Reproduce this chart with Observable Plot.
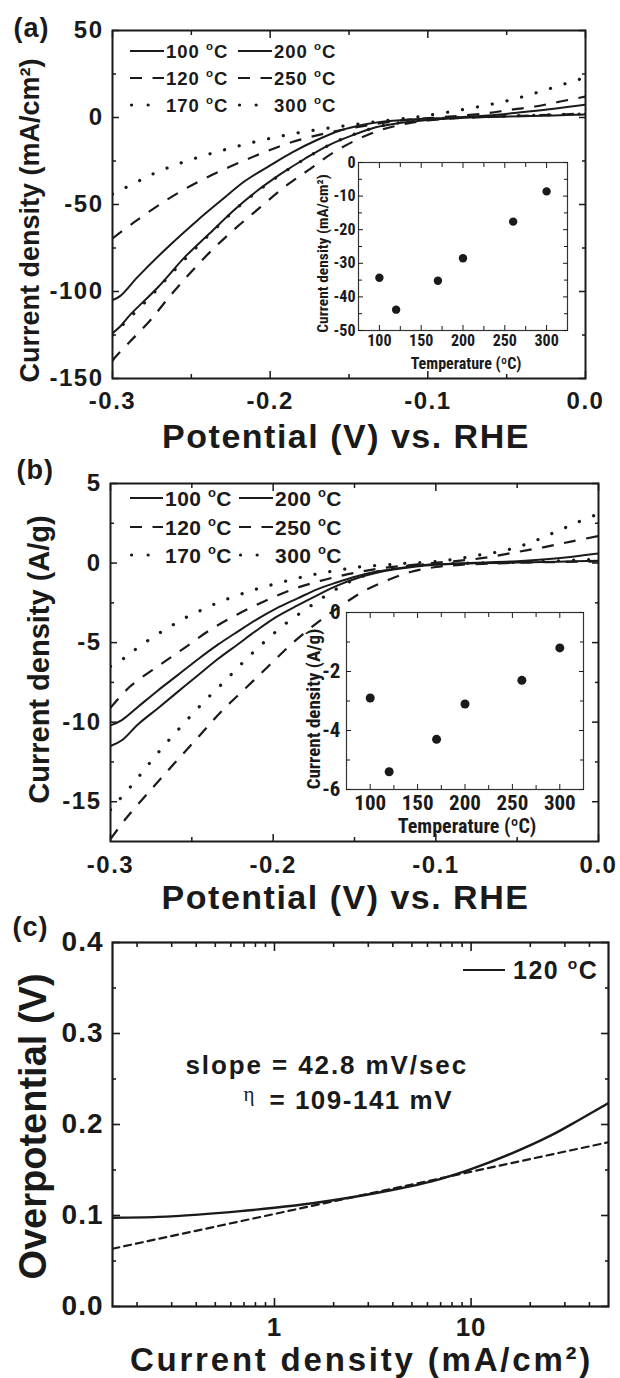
<!DOCTYPE html>
<html><head><meta charset="utf-8">
<script src="https://cdn.jsdelivr.net/npm/d3@7"></script>
<script src="https://cdn.jsdelivr.net/npm/@observablehq/plot@0.6"></script>
<style>
body{margin:0;background:#fff;}
#root{position:relative;width:620px;height:1378px;overflow:hidden;background:#fff;}
#root svg{position:absolute;overflow:visible;background:transparent;}
</style></head><body><div id="root"></div>
<script>
// ---------------- data ----------------
// legend temperatures (°C)
const legendTemps = [100, 120, 170, 200, 250, 300];
const lineStyleOf = {100: "solid", 200: "solid", 120: "dashed", 250: "dashed", 170: "dotted", 300: "dotted"};

// panel (a): potential (V) vs current density (mA/cm2)
const a100 = [[-0.3,-124],[-0.295,-120],[-0.289,-113.6],[-0.271,-97.4],[-0.254,-80.1],[-0.2385,-66.7],[-0.223,-53.3],[-0.208,-42],[-0.193,-32.3],[-0.178,-23.7],[-0.163,-16],[-0.148,-10.3],[-0.133,-5.6],[-0.118,-3.2],[-0.1,-1.4],[-0.08,-0.3],[-0.06,0.3],[-0.04,0.7],[-0.02,1.2],[0,1.8]];
const a120 = [[-0.3,-140],[-0.299,-138.5],[-0.289,-128.9],[-0.276,-116.5],[-0.264,-103.1],[-0.251,-89.7],[-0.236,-75.4],[-0.221,-62.9],[-0.206,-51.4],[-0.191,-40],[-0.176,-30.4],[-0.161,-20.8],[-0.146,-13.2],[-0.131,-7.5],[-0.116,-4.0],[-0.1,-1.7],[-0.08,-0.3],[-0.06,0.5],[-0.04,1.0],[-0.02,1.6],[0,2.3]];
const a170 = [[-0.3,-125],[-0.289,-115],[-0.276,-103],[-0.264,-91],[-0.251,-78.5],[-0.236,-65],[-0.221,-52],[-0.206,-41],[-0.191,-31.3],[-0.176,-22.7],[-0.161,-15.1],[-0.146,-9.4],[-0.131,-5.2],[-0.116,-2.7],[-0.1,-1.1],[-0.08,0],[-0.06,0.6],[-0.04,1.1],[-0.02,1.6],[0,2.1]];
const a200 = [[-0.3,-105],[-0.295,-102.5],[-0.284,-91.6],[-0.266,-75.4],[-0.246,-59],[-0.231,-47.6],[-0.216,-36.5],[-0.2,-27.5],[-0.186,-20],[-0.171,-13.2],[-0.156,-7.6],[-0.141,-4.2],[-0.126,-2.2],[-0.105,-0.8],[-0.084,-0.1],[-0.062,1.1],[-0.041,3.0],[-0.02,5.0],[0,7.3]];
const a250 = [[-0.3,-69.5],[-0.286,-60],[-0.266,-47.6],[-0.246,-37.1],[-0.226,-28.5],[-0.206,-20.8],[-0.186,-14.1],[-0.166,-9.3],[-0.151,-6.5],[-0.13,-3.3],[-0.11,-1.1],[-0.095,-0.1],[-0.08,1.0],[-0.062,2.5],[-0.048,4.4],[-0.032,6.3],[-0.016,9.2],[0,12]];
const a300 = [[-0.3,-44],[-0.286,-37.7],[-0.274,-32.3],[-0.259,-26.9],[-0.2435,-22.3],[-0.228,-18.3],[-0.213,-14.7],[-0.198,-11.6],[-0.183,-8.9],[-0.168,-6.7],[-0.153,-4.8],[-0.138,-3.0],[-0.123,-1.4],[-0.11,-0.1],[-0.1,1.2],[-0.085,3.4],[-0.066,6.5],[-0.047,10.2],[-0.028,15.1],[-0.009,20.5],[0,23]];

// panel (b): potential (V) vs current density (A/g)
const b100 = [[-0.3,-11.5],[-0.293,-11.14],[-0.283,-10.13],[-0.271,-9.14],[-0.2585,-8.08],[-0.246,-7.03],[-0.234,-6.03],[-0.222,-5.13],[-0.21,-4.22],[-0.198,-3.38],[-0.185,-2.66],[-0.173,-2.03],[-0.161,-1.43],[-0.149,-0.97],[-0.137,-0.63],[-0.124,-0.38],[-0.112,-0.21],[-0.1,-0.11],[-0.076,-0.02],[-0.05,0.03],[-0.025,0.08],[0,0.15]];
const b120 = [[-0.3,-17.35],[-0.29,-15.99],[-0.2756,-14.3],[-0.261,-12.62],[-0.246,-10.93],[-0.232,-9.35],[-0.217,-7.87],[-0.202,-6.39],[-0.188,-5.02],[-0.173,-3.76],[-0.1585,-2.7],[-0.144,-1.75],[-0.129,-1.05],[-0.115,-0.55],[-0.1,-0.25],[-0.085,-0.11],[-0.063,-0.02],[-0.039,0.04],[0,0.1]];
const b170 = [[-0.3,-15.5],[-0.296,-15.03],[-0.288,-14.1],[-0.278,-12.83],[-0.266,-11.35],[-0.254,-9.98],[-0.2415,-8.61],[-0.229,-7.34],[-0.217,-6.08],[-0.205,-4.92],[-0.193,-3.86],[-0.18,-2.91],[-0.168,-2.07],[-0.156,-1.33],[-0.144,-0.8],[-0.129,-0.38],[-0.115,-0.17],[-0.1,-0.06],[-0.076,0],[-0.05,0.05],[0,0.25]];
const b200 = [[-0.3,-10.2],[-0.293,-9.87],[-0.283,-9.03],[-0.271,-8.02],[-0.2585,-7.03],[-0.246,-6.03],[-0.234,-5.13],[-0.222,-4.32],[-0.21,-3.54],[-0.198,-2.85],[-0.185,-2.22],[-0.173,-1.65],[-0.161,-1.22],[-0.149,-0.84],[-0.137,-0.55],[-0.124,-0.34],[-0.112,-0.17],[-0.1,-0.08],[-0.076,0.02],[-0.05,0.12],[-0.025,0.3],[0,0.6]];
const b250 = [[-0.3,-9.1],[-0.288,-7.76],[-0.271,-6.5],[-0.256,-5.44],[-0.239,-4.22],[-0.222,-3.23],[-0.205,-2.38],[-0.188,-1.65],[-0.171,-1.12],[-0.154,-0.7],[-0.137,-0.38],[-0.12,-0.17],[-0.102,0],[-0.085,0.15],[-0.068,0.36],[-0.051,0.68],[-0.034,0.99],[-0.017,1.35],[0,1.7]];
const b300 = [[-0.3,-6.5],[-0.2915,-5.97],[-0.283,-5.3],[-0.273,-4.6],[-0.263,-3.97],[-0.254,-3.44],[-0.244,-2.95],[-0.234,-2.49],[-0.223,-2.07],[-0.212,-1.69],[-0.201,-1.37],[-0.19,-1.08],[-0.179,-0.8],[-0.168,-0.59],[-0.156,-0.38],[-0.144,-0.21],[-0.13,-0.11],[-0.117,0],[-0.102,0.08],[-0.088,0.25],[-0.073,0.51],[-0.058,0.78],[-0.044,1.2],[-0.029,1.84],[-0.015,2.47],[0,3.1]];

// insets: temperature (°C) vs current density
const insetTemp = [100, 120, 170, 200, 260, 300];
const insetA = [-34.3, -43.8, -35.2, -28.5, -17.6, -8.6];   // mA/cm2
const insetB = [-2.9, -5.4, -4.3, -3.1, -2.3, -1.2];       // A/g

// panel (c): Tafel plot, current density (mA/cm2) vs overpotential (V)
const c120 = [[0.15,0.0975],[0.256,0.0985],[0.409,0.101],[0.651,0.1045],[1,0.1085],[1.56,0.1135],[2.48,0.12],[3.96,0.128],[6.31,0.1375],[10,0.151],[16,0.168],[25.5,0.188],[35.4,0.205],[50,0.2235]];
const cFit = [[0.15,0.0635],[50,0.1805]];

// tick values
const potTicks = [-0.3, -0.2, -0.1, 0.0];
const potMinor = [-0.25, -0.15, -0.05];
const aYTicks = [50, 0, -50, -100, -150];
const aYMinor = [25, -25, -75, -125];
const bYTicks = [5, 0, -5, -10, -15];
const bYMinor = [2.5, -2.5, -7.5, -12.5];
const cXTicks = [1, 10];
const cXMinor = [0.2,0.3,0.4,0.5,0.6,0.7,0.8,0.9,2,3,4,5,6,7,8,9,20,30,40];
const cYTicks = [0.0, 0.1, 0.2, 0.3, 0.4];
const cYMinor = [0.05, 0.15, 0.25, 0.35];
const insetTempTicks = [100, 150, 200, 250, 300];
const insetTempMinor = [125, 175, 225, 275];
const insetAYTicks = [0, -10, -20, -30, -40, -50];
const insetAYMinor = [-5, -15, -25, -35, -45];
const insetBYTicks = [0, -2, -4, -6];
const insetBYMinor = [-1, -3, -5];

// ---------------- drawing ----------------
const INK = "#1a1a1a";
const FONT = "'Liberation Sans', Arial, Helvetica, sans-serif";
const NARROW = "'Roboto Condensed', 'Liberation Sans', sans-serif";
const DASH = {solid: null, dashed: "12,10.5", dotted: "0.1,15"};
const WIDTH = {solid: 2, dashed: 2.2, dotted: 3.2};
const CAP = {solid: "butt", dashed: "butt", dotted: "round"};
const root = document.getElementById("root");

function place(svg, left, top, ls) {
  svg.style.left = left + "px";
  svg.style.top = top + "px";
  svg.style.letterSpacing = ls + "px";
  root.appendChild(svg);
  return svg;
}
const baseStyle = (family) => ({fontFamily: family, fontWeight: "bold", background: "transparent", overflow: "visible", color: INK});
function spacingFor(svg, content, ls) {
  d3.select(svg).selectAll("text").filter(function () { return this.textContent === content; }).attr("letter-spacing", ls);
}

// inward tick marks on all four sides
function frameTicks(xMajor, xMinor, yMajor, yMinor, L, l, sw) {
  const o = {fill: "none", label: null, stroke: INK, strokeWidth: sw};
  return [
    Plot.axisX({...o, ticks: xMajor, anchor: "bottom", tickSize: -L}),
    Plot.axisX({...o, ticks: xMajor, anchor: "top", tickSize: -L}),
    Plot.axisX({...o, ticks: xMinor, anchor: "bottom", tickSize: -l}),
    Plot.axisX({...o, ticks: xMinor, anchor: "top", tickSize: -l}),
    Plot.axisY({...o, ticks: yMajor, anchor: "left", tickSize: -L}),
    Plot.axisY({...o, ticks: yMajor, anchor: "right", tickSize: -L}),
    Plot.axisY({...o, ticks: yMinor, anchor: "left", tickSize: -l}),
    Plot.axisY({...o, ticks: yMinor, anchor: "right", tickSize: -l})
  ];
}
function curve(data, temp) {
  const s = lineStyleOf[temp];
  return Plot.line(data, {x: d => d[0], y: d => d[1], stroke: INK, strokeWidth: WIDTH[s], strokeDasharray: DASH[s], strokeLinecap: CAP[s], curve: "catmull-rom", clip: true});
}
function yTitle(label, dx, dy, fontSize) {
  return Plot.text([label], {text: d => d, frameAnchor: "left", textAnchor: "middle", lineAnchor: "middle", rotate: -90, dx, dy, fontSize});
}
function panelTag(label, dx, dy) {
  return Plot.text([label], {text: d => d, frameAnchor: "top-left", textAnchor: "start", lineAnchor: "bottom", dx, dy, fontSize: 27});
}
function addLegend(svg, cols, rowsY, fs, ls) {
  const g = d3.select(svg).append("g").attr("font-size", fs).attr("font-weight", "bold")
    .attr("font-family", FONT).attr("fill", INK).attr("text-anchor", "start");
  cols.forEach((col) => {
    col.temps.forEach((t, i) => {
      const s = lineStyleOf[t];
      const y = rowsY[i];
      g.append("line").attr("x1", s === "dotted" ? col.x1 + 1.5 : col.x1).attr("x2", s === "dotted" ? col.x1 + 20 : col.x2)
        .attr("y1", y).attr("y2", y).attr("stroke", INK).attr("stroke-width", WIDTH[s])
        .attr("stroke-dasharray", s === "dotted" ? "0.1,16.5" : DASH[s]).attr("stroke-linecap", CAP[s]);
      const tx = g.append("text").attr("x", col.tx).attr("y", y + fs * 0.36).attr("letter-spacing", ls);
      tx.append("tspan").text(t + " ");
      tx.append("tspan").attr("font-size", fs * 0.62).attr("dy", -fs * 0.4).text("o");
      tx.append("tspan").attr("dy", fs * 0.4).text("C");
    });
  });
}

// ---- panel (a) ----
const svgA = Plot.plot({
  width: 620, height: 455, marginLeft: 112, marginRight: 35, marginTop: 30, marginBottom: 77,
  x: {domain: [-0.3, 0]}, y: {domain: [-150, 50]},
  style: baseStyle(FONT),
  marks: [
    curve(a100, 100), curve(a120, 120), curve(a170, 170), curve(a200, 200), curve(a250, 250), curve(a300, 300),
    Plot.frame({stroke: INK, strokeWidth: 2}),
    ...frameTicks(potTicks, potMinor, aYTicks, aYMinor, 7, 4, 1.5),
    Plot.axisX({ticks: potTicks, anchor: "bottom", tickSize: 0, tickPadding: 13, fontSize: 24, label: null, tickFormat: d => d.toFixed(1)}),
    Plot.axisY({ticks: aYTicks, anchor: "left", tickSize: 0, tickPadding: 9, fontSize: 24, label: null, tickFormat: d => String(d)}),
    Plot.text(["Potential (V) vs. RHE"], {text: d => d, frameAnchor: "bottom", lineAnchor: "bottom", dy: 69, dx: -3, fontSize: 34}),
    yTitle("Current density (mA/cm²)", -82, 16, 27),
    panelTag("(a)", -99, 6)
  ]
});
place(svgA, 0, 0, 1.5);
spacingFor(svgA, "Current density (mA/cm²)", 0);
spacingFor(svgA, "(a)", 1);
addLegend(svgA, [{x1: 130, x2: 164, tx: 166, temps: [100, 120, 170]}, {x1: 238, x2: 272, tx: 274, temps: [200, 250, 300]}], [51, 78, 105], 18.5, 1);

// ---- panel (b) ----
const svgB = Plot.plot({
  width: 620, height: 460, marginLeft: 110, marginRight: 22, marginTop: 28, marginBottom: 74,
  x: {domain: [-0.3, 0]}, y: {domain: [-17.5, 5]},
  style: baseStyle(FONT),
  marks: [
    curve(b100, 100), curve(b120, 120), curve(b170, 170), curve(b200, 200), curve(b250, 250), curve(b300, 300),
    Plot.frame({stroke: INK, strokeWidth: 2}),
    ...frameTicks(potTicks, potMinor, bYTicks, bYMinor, 7, 4, 1.5),
    Plot.axisX({ticks: potTicks, anchor: "bottom", tickSize: 0, tickPadding: 14, fontSize: 24, label: null, tickFormat: d => d.toFixed(1)}),
    Plot.axisY({ticks: bYTicks, anchor: "left", tickSize: 0, tickPadding: 9, fontSize: 24, label: null, tickFormat: d => String(d)}),
    Plot.text(["Potential (V) vs. RHE"], {text: d => d, frameAnchor: "bottom", lineAnchor: "bottom", dy: 67, dx: -9, fontSize: 34}),
    yTitle("Current density (A/g)", -71, -3, 29),
    panelTag("(b)", -94, -5)
  ]
});
place(svgB, 0, 455, 1.5);
spacingFor(svgB, "Current density (A/g)", 0);
spacingFor(svgB, "(b)", 1);
addLegend(svgB, [{x1: 130, x2: 163, tx: 165, temps: [100, 120, 170]}, {x1: 239, x2: 273, tx: 275, temps: [200, 250, 300]}], [43, 72, 100], 21, 0.5);

// ---- insets ----
function inset(values, cfg) {
  const pts = insetTemp.map((t, i) => ({t, v: values[i]}));
  return Plot.plot({
    width: cfg.w, height: cfg.h, marginLeft: cfg.ml, marginRight: cfg.mr, marginTop: cfg.mt, marginBottom: cfg.mb,
    x: {domain: [75, 325]}, y: {domain: cfg.yDomain},
    style: baseStyle(NARROW),
    marks: [
      Plot.frame({fill: "white", stroke: "none"}),
      Plot.dot(pts, {x: "t", y: "v", r: cfg.r, fill: INK, stroke: "none"}),
      Plot.frame({stroke: "#333", strokeWidth: 1.2}),
      ...frameTicks(insetTempTicks, insetTempMinor, cfg.yTicks, cfg.yMinor, 5, 4, 1),
      Plot.axisX({ticks: insetTempTicks, anchor: "bottom", tickSize: 0, tickPadding: cfg.xPad, fontSize: cfg.fs, label: null, tickFormat: d => String(d)}),
      Plot.axisY({ticks: cfg.yTicks, anchor: "left", tickSize: 0, tickPadding: cfg.yPad, fontSize: cfg.fs, label: null, tickFormat: d => String(d)}),
      Plot.text(["Temperature (ºC)"], {text: d => d, frameAnchor: "bottom", lineAnchor: "bottom", dy: cfg.tDy, dx: cfg.tDx, fontSize: cfg.tfs}),
      yTitle(cfg.yTitle, cfg.yTx, cfg.yTy, cfg.yfs)
    ]
  });
}
place(inset(insetA, {
  w: 300, h: 230, ml: 68, mr: 23, mt: 12, mb: 50, yDomain: [-50, 0], r: 4.2,
  yTicks: insetAYTicks, yMinor: insetAYMinor, xPad: 4, yPad: 3, fs: 16,
  tDy: 38, tDx: 3, tfs: 16, yfs: 15.5, yTitle: "Current density (mA/cm²)", yTx: -35, yTy: 7
}), 290, 150, 0);
place(inset(insetB, {
  w: 320, h: 245, ml: 66, mr: 17, mt: 14, mb: 54, yDomain: [-6, 0], r: 4.5,
  yTicks: insetBYTicks, yMinor: insetBYMinor, xPad: 6, yPad: 6, fs: 21,
  tDy: 43, tDx: 2, tfs: 20, yfs: 19, yTitle: "Current density (A/g)", yTx: -33, yTy: 8
}), 280, 598, 0);

// ---- panel (c) ----
const svgC = Plot.plot({
  width: 620, height: 463, marginLeft: 112, marginRight: 12, marginTop: 27, marginBottom: 72,
  x: {type: "log", domain: [0.15, 50]}, y: {domain: [0, 0.4]},
  style: baseStyle(FONT),
  marks: [
    Plot.line(cFit, {x: d => d[0], y: d => d[1], stroke: INK, strokeWidth: 2.2, strokeDasharray: "7,5", clip: true}),
    Plot.line(c120, {x: d => d[0], y: d => d[1], stroke: INK, strokeWidth: 2.4, curve: "catmull-rom", clip: true}),
    Plot.frame({stroke: INK, strokeWidth: 2.2}),
    ...frameTicks(cXTicks, cXMinor, cYTicks, cYMinor, 8, 4, 1.6),
    Plot.axisX({ticks: cXTicks, anchor: "bottom", tickSize: 0, tickPadding: 11, fontSize: 26, label: null, tickFormat: d => String(d)}),
    Plot.axisY({ticks: cYTicks, anchor: "left", tickSize: 0, tickPadding: 9, fontSize: 28, label: null, tickFormat: d => d.toFixed(1)}),
    Plot.text(["Current density (mA/cm²)"], {text: d => d, frameAnchor: "bottom", lineAnchor: "bottom", dy: 64, dx: 1, fontSize: 33}),
    yTitle("Overpotential (V)", -79, 2, 38),
    panelTag("(c)", -100, -7),
    Plot.text(["slope = 42.8 mV/sec"], {text: d => d, frameAnchor: "top-left", textAnchor: "start", lineAnchor: "bottom", dx: 73, dy: 131, fontSize: 26}),
    Plot.text(["η"], {text: d => d, frameAnchor: "top-left", textAnchor: "start", lineAnchor: "bottom", dx: 131, dy: 158, fontSize: 21, fontWeight: "normal", fontFamily: "'Liberation Serif', 'DejaVu Serif', serif"}),
    Plot.text(["= 109-141 mV"], {text: d => d, frameAnchor: "top-left", textAnchor: "start", lineAnchor: "bottom", dx: 157, dy: 166, fontSize: 26})
  ]
});
place(svgC, 0, 915, 1);
spacingFor(svgC, "Current density (mA/cm²)", 2.8);
spacingFor(svgC, "Overpotential (V)", 0);
spacingFor(svgC, "(c)", 1);
spacingFor(svgC, "slope = 42.8 mV/sec", 1.9);
spacingFor(svgC, "= 109-141 mV", 1.5);
// legend (c)
(() => {
  const g = d3.select(svgC).append("g").attr("font-family", FONT).attr("font-weight", "bold").attr("fill", INK)
    .attr("font-size", 25).attr("text-anchor", "start");
  const y = 970 - 915;
  g.append("line").attr("x1", 463).attr("x2", 505).attr("y1", y).attr("y2", y).attr("stroke", INK).attr("stroke-width", 2.2);
  const t = g.append("text").attr("x", 513).attr("y", y + 9).attr("letter-spacing", 1.5);
  t.append("tspan").text(legendTemps[1] + " ");
  t.append("tspan").attr("font-size", 15.5).attr("dy", -10).text("o");
  t.append("tspan").attr("dy", 10).text("C");
})();
</script></body></html>
